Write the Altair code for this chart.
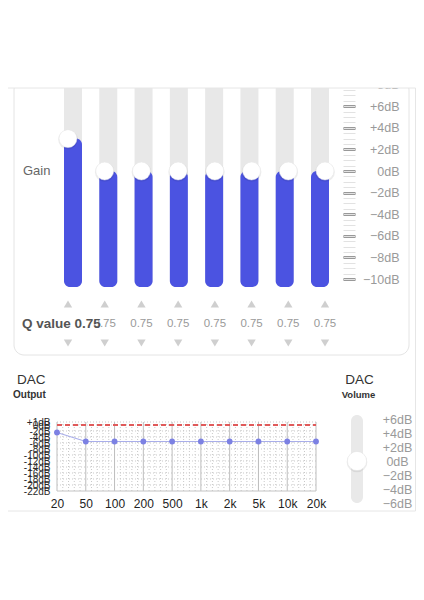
import altair as alt
import pandas as pd

# ---------------- data ----------------
bands = [1, 2, 3, 4, 5, 6, 7, 8]
gains = [3, 0, 0, 0, 0, 0, 0, 0]          # dB
q_values = [0.75, 0.75, 0.75, 0.75, 0.75, 0.75, 0.75, 0.75]
eq_ticks_major = [-10, -8, -6, -4, -2, 0, 2, 4, 6, 8]
eq_ticks_minor = [v / 2 for v in range(-20, 17)]
gain_floor = -10
gain_top = 8

freqs = ["20", "50", "100", "200", "500", "1k", "2k", "5k", "10k", "20k"]
dac_levels = [-2.5, -5.5, -5.5, -5.5, -5.5, -5.5, -5.5, -5.5, -5.5, -5.5]
dac_ticks = [1, 0, -2, -4, -6, -8, -10, -12, -14, -16, -18, -20, -22]
dac_limit = 0

vol_ticks = [6, 4, 2, 0, -2, -4, -6]
volume = 0

W, H = 408, 566
FONT = "Liberation Sans"

# ---------------- scales ----------------
def xeq():
    return alt.Scale(domain=[1, 8], range=[60, 317])

def yeq():
    return alt.Scale(domain=[-10, 8], range=[271, 76.6])

def yrow():
    return alt.Scale(type="point", domain=["up", "q", "down"], range=[296, 335], padding=0)

def xd():
    return alt.Scale(type="point", domain=freqs, range=[49, 308], padding=0)

def xdl():
    return alt.Scale(domain=[0, 9], range=[49, 308])

def yd():
    return alt.Scale(domain=[-22, 1], range=[483, 414])

def xv():
    return alt.Scale(type="point", domain=["Volume"], range=[339, 359], padding=0)

def yv():
    return alt.Scale(domain=[-6, 6], range=[495, 411])

eq = pd.DataFrame({"band": bands, "gain": gains, "q": q_values,
                   "floor": gain_floor, "top": gain_top})
tri = pd.DataFrame([{"band": b, "row": r} for b in bands for r in ["up", "down"]])
qtxt = pd.DataFrame({"band": bands[1:], "row": "q",
                     "label": [f"{v:.2f}" for v in q_values[1:]]})
one = pd.DataFrame({"k": [0]})

dac = pd.DataFrame({"freq": freqs, "level": dac_levels})
major_v = pd.DataFrame({"i": list(range(len(freqs))), "lo": -22, "hi": 1})
minor_v = pd.DataFrame({"i": [i + k / 5 for i in range(len(freqs) - 1) for k in range(1, 5)],
                        "lo": -22, "hi": 1})
minor_h = pd.DataFrame({"lvl": [1] + list(range(0, -21, -2)), "a": 0, "b": 9})
bottom_h = pd.DataFrame({"lvl": [-22], "a": 0, "b": 9})
limit = pd.DataFrame({"lvl": [dac_limit], "a": freqs[0], "b": freqs[-1]})

vol = pd.DataFrame({"ch": ["Volume"], "v": [volume], "lo": [-6], "hi": [6]})

NOAX = None

layers = []

# panel outline (EQ)
layers.append(alt.Chart(one).mark_rect(fillOpacity=0, stroke="#e4e4e4", strokeWidth=1,
                                       cornerRadius=10).encode(
    x=alt.value(6), x2=alt.value(401), y=alt.value(72), y2=alt.value(347)))

# EQ major tick axis (carried by an invisible layer)
layers.append(alt.Chart(eq).mark_point(opacity=0).encode(
    x=alt.X("band:Q", scale=xeq(), axis=NOAX),
    y=alt.Y("gain:Q", scale=yeq(), axis=alt.Axis(
        orient="right", offset=335 - W, values=eq_ticks_major, title=None,
        tickSize=12, tickWidth=2, tickColor="#333333", domain=False, grid=False,
        labelExpr="datum.value > 0 ? '+' + datum.value + 'dB' : (datum.value < 0 ? '\u2212' + abs(datum.value) + 'dB' : '0dB')",
        labelColor="#9a9a9a", labelFontSize=12.5, labelFont=FONT, labelAlign="right",
        labelBaseline="middle", labelPadding=44, labelOverlap=False, labelFlush=False))))

# EQ minor ticks
layers.append(alt.Chart(eq).mark_point(opacity=0).encode(
    x=alt.X("band:Q", scale=xeq(), axis=NOAX),
    y=alt.Y("gain:Q", scale=yeq(), axis=alt.Axis(
        orient="right", offset=335 - W, values=eq_ticks_minor, title=None,
        tickSize=12, tickWidth=1, tickColor="#e2e2e2", domain=False, grid=False,
        labels=False))))

# grey slider tracks
layers.append(alt.Chart(eq).mark_bar(size=18, color="#e8e8e8", cornerRadius=6,
                                     yOffset=-14, y2Offset=8).encode(
    x=alt.X("band:Q", scale=xeq(), axis=NOAX),
    y=alt.Y("top:Q", scale=yeq(), axis=NOAX),
    y2="floor:Q"))

# blue gain bars
layers.append(alt.Chart(eq).mark_bar(size=18, color="#4b53e1", cornerRadius=6,
                                     y2Offset=8).encode(
    x=alt.X("band:Q", scale=xeq(), axis=NOAX),
    y=alt.Y("gain:Q", scale=yeq(), axis=NOAX),
    y2="floor:Q"))

# knob shadow + knob
layers.append(alt.Chart(eq).mark_circle(size=390, color="#000000", opacity=0.07,
                                        yOffset=1).encode(
    x=alt.X("band:Q", scale=xeq(), axis=NOAX),
    y=alt.Y("gain:Q", scale=yeq(), axis=NOAX)))
layers.append(alt.Chart(eq).mark_circle(size=320, color="#ffffff", opacity=1,
                                        stroke="#e6e6e6", strokeWidth=0.5).encode(
    x=alt.X("band:Q", scale=xeq(), axis=NOAX),
    y=alt.Y("gain:Q", scale=yeq(), axis=NOAX)))

# Q arrows
layers.append(alt.Chart(tri).mark_point(filled=True, size=70, color="#cfcfcf", opacity=1).encode(
    x=alt.X("band:Q", scale=xeq(), axis=NOAX),
    y=alt.Y("row:N", scale=yrow(), axis=NOAX),
    shape=alt.Shape("row:N", scale=alt.Scale(domain=["up", "down"],
                                             range=["triangle-up", "triangle-down"]),
                    legend=None)))

# Q values
layers.append(alt.Chart(qtxt).mark_text(font=FONT, fontSize=11.5, color="#9a9a9a",
                                        baseline="middle").encode(
    x=alt.X("band:Q", scale=xeq(), axis=NOAX),
    y=alt.Y("row:N", scale=yrow(), axis=NOAX),
    text="label:N"))

# labels in EQ panel
layers.append(alt.Chart(pd.DataFrame({"t": ["Gain"]})).mark_text(
    font=FONT, fontSize=13, color="#666666", align="left", baseline="middle").encode(
    x=alt.value(15), y=alt.value(163), text="t:N"))
layers.append(alt.Chart(pd.DataFrame({"t": [f"Q value {q_values[0]:.2f}"]})).mark_text(
    font=FONT, fontSize=13.5, fontWeight="bold", color="#555555", align="left",
    baseline="middle").encode(x=alt.value(14), y=alt.value(316), text="t:N"))

# cover of the cropped top edge + outer frame
layers.append(alt.Chart(one).mark_rect(color="#ffffff").encode(
    x=alt.value(0), x2=alt.value(W), y=alt.value(0), y2=alt.value(80)))
layers.append(alt.Chart(one).mark_rect(fillOpacity=0, stroke="#e6e6e6", strokeWidth=1).encode(
    x=alt.value(-4), x2=alt.value(407.5), y=alt.value(80), y2=alt.value(503)))

# ---------------- DAC output ----------------
layers.append(alt.Chart(minor_v).mark_rule(color="#c9c9c9", strokeWidth=1,
                                           strokeDash=[1, 2]).encode(
    x=alt.X("i:Q", scale=xdl(), axis=NOAX),
    y=alt.Y("lo:Q", scale=yd(), axis=NOAX), y2="hi:Q"))
layers.append(alt.Chart(minor_h).mark_rule(color="#c9c9c9", strokeWidth=1,
                                           strokeDash=[1, 2]).encode(
    x=alt.X("a:Q", scale=xdl(), axis=NOAX), x2="b:Q",
    y=alt.Y("lvl:Q", scale=yd(), axis=NOAX)))
layers.append(alt.Chart(major_v).mark_rule(color="#bdbdbd", strokeWidth=1).encode(
    x=alt.X("i:Q", scale=xdl(), axis=NOAX),
    y=alt.Y("lo:Q", scale=yd(), axis=NOAX), y2="hi:Q"))
layers.append(alt.Chart(bottom_h).mark_rule(color="#c4c4c4", strokeWidth=1).encode(
    x=alt.X("a:Q", scale=xdl(), axis=NOAX), x2="b:Q",
    y=alt.Y("lvl:Q", scale=yd(), axis=NOAX)))
layers.append(alt.Chart(limit).mark_rule(color="#e05a5a", strokeWidth=2.2,
                                         strokeDash=[5, 3]).encode(
    x=alt.X("a:N", scale=xd(), axis=NOAX), x2="b:N",
    y=alt.Y("lvl:Q", scale=yd(), axis=NOAX)))
layers.append(alt.Chart(dac).mark_line(color="#a9aeea", strokeWidth=1.2).encode(
    x=alt.X("freq:N", scale=xd(), sort=freqs, axis=alt.Axis(
        orient="bottom", offset=483 - H, title=None, ticks=False, domain=False, grid=False,
        labelFont=FONT, labelFontSize=12, labelColor="#222222", labelAngle=0,
        labelBaseline="middle", labelPadding=12, labelOverlap=False)),
    y=alt.Y("level:Q", scale=yd(), axis=alt.Axis(
        orient="left", offset=-49, values=dac_ticks, title=None, ticks=False,
        domain=False, grid=False,
        labelExpr="(datum.value > 0 ? '+' : '') + datum.value + 'dB'",
        labelFont=FONT, labelFontSize=10, labelColor="#2a2a2a", labelPadding=7,
        labelBaseline="middle", labelOverlap=False, labelFlush=False))))
layers.append(alt.Chart(dac).mark_circle(size=34, color="#7c81e3", opacity=1).encode(
    x=alt.X("freq:N", scale=xd(), sort=freqs, axis=NOAX),
    y=alt.Y("level:Q", scale=yd(), axis=NOAX)))

layers.append(alt.Chart(pd.DataFrame({"t": ["DAC"]})).mark_text(
    font=FONT, fontSize=13.5, color="#333333", align="left", baseline="middle").encode(
    x=alt.value(9), y=alt.value(372), text="t:N"))
layers.append(alt.Chart(pd.DataFrame({"t": ["Output"]})).mark_text(
    font=FONT, fontSize=10, fontWeight="bold", color="#333333", align="left",
    baseline="middle").encode(x=alt.value(5), y=alt.value(387), text="t:N"))

# ---------------- DAC volume ----------------
layers.append(alt.Chart(pd.DataFrame({"t": ["DAC"]})).mark_text(
    font=FONT, fontSize=13.5, color="#333333", align="center", baseline="middle").encode(
    x=alt.value(351.5), y=alt.value(372), text="t:N"))
layers.append(alt.Chart(pd.DataFrame({"t": ["Volume"]})).mark_text(
    font=FONT, fontSize=9.5, fontWeight="bold", color="#333333", align="center",
    baseline="middle").encode(x=alt.value(350.5), y=alt.value(387), text="t:N"))
layers.append(alt.Chart(vol).mark_bar(size=12, color="#e9e9e9", cornerRadius=6,
                                      yOffset=-4).encode(
    x=alt.X("ch:N", scale=xv(), axis=NOAX),
    y=alt.Y("hi:Q", scale=yv(), axis=alt.Axis(
        orient="right", offset=349 - W, values=vol_ticks, title=None, ticks=False,
        domain=False, grid=False,
        labelExpr="datum.value > 0 ? '+' + datum.value + 'dB' : (datum.value < 0 ? '\u2212' + abs(datum.value) + 'dB' : '0dB')",
        labelFont=FONT, labelFontSize=12.5, labelColor="#9a9a9a", labelAlign="center",
        labelBaseline="middle", labelPadding=40, labelOverlap=False, labelFlush=False)),
    y2="lo:Q"))
layers.append(alt.Chart(vol).mark_circle(size=430, color="#000000", opacity=0.07,
                                         yOffset=1).encode(
    x=alt.X("ch:N", scale=xv(), axis=NOAX),
    y=alt.Y("v:Q", scale=yv(), axis=NOAX)))
layers.append(alt.Chart(vol).mark_circle(size=370, color="#ffffff", opacity=1,
                                         stroke="#e2e2e2", strokeWidth=0.5).encode(
    x=alt.X("ch:N", scale=xv(), axis=NOAX),
    y=alt.Y("v:Q", scale=yv(), axis=NOAX)))

chart = alt.layer(*layers).resolve_scale(
    x="independent", y="independent", shape="independent"
).properties(
    width=W, height=H, padding=0, autosize=alt.AutoSizeParams(type="none")
).configure(
    font=FONT, background="#ffffff"
).configure_view(strokeWidth=0, stroke="transparent")

chart.save("out.html", embed_options={"renderer": "svg", "actions": False})
